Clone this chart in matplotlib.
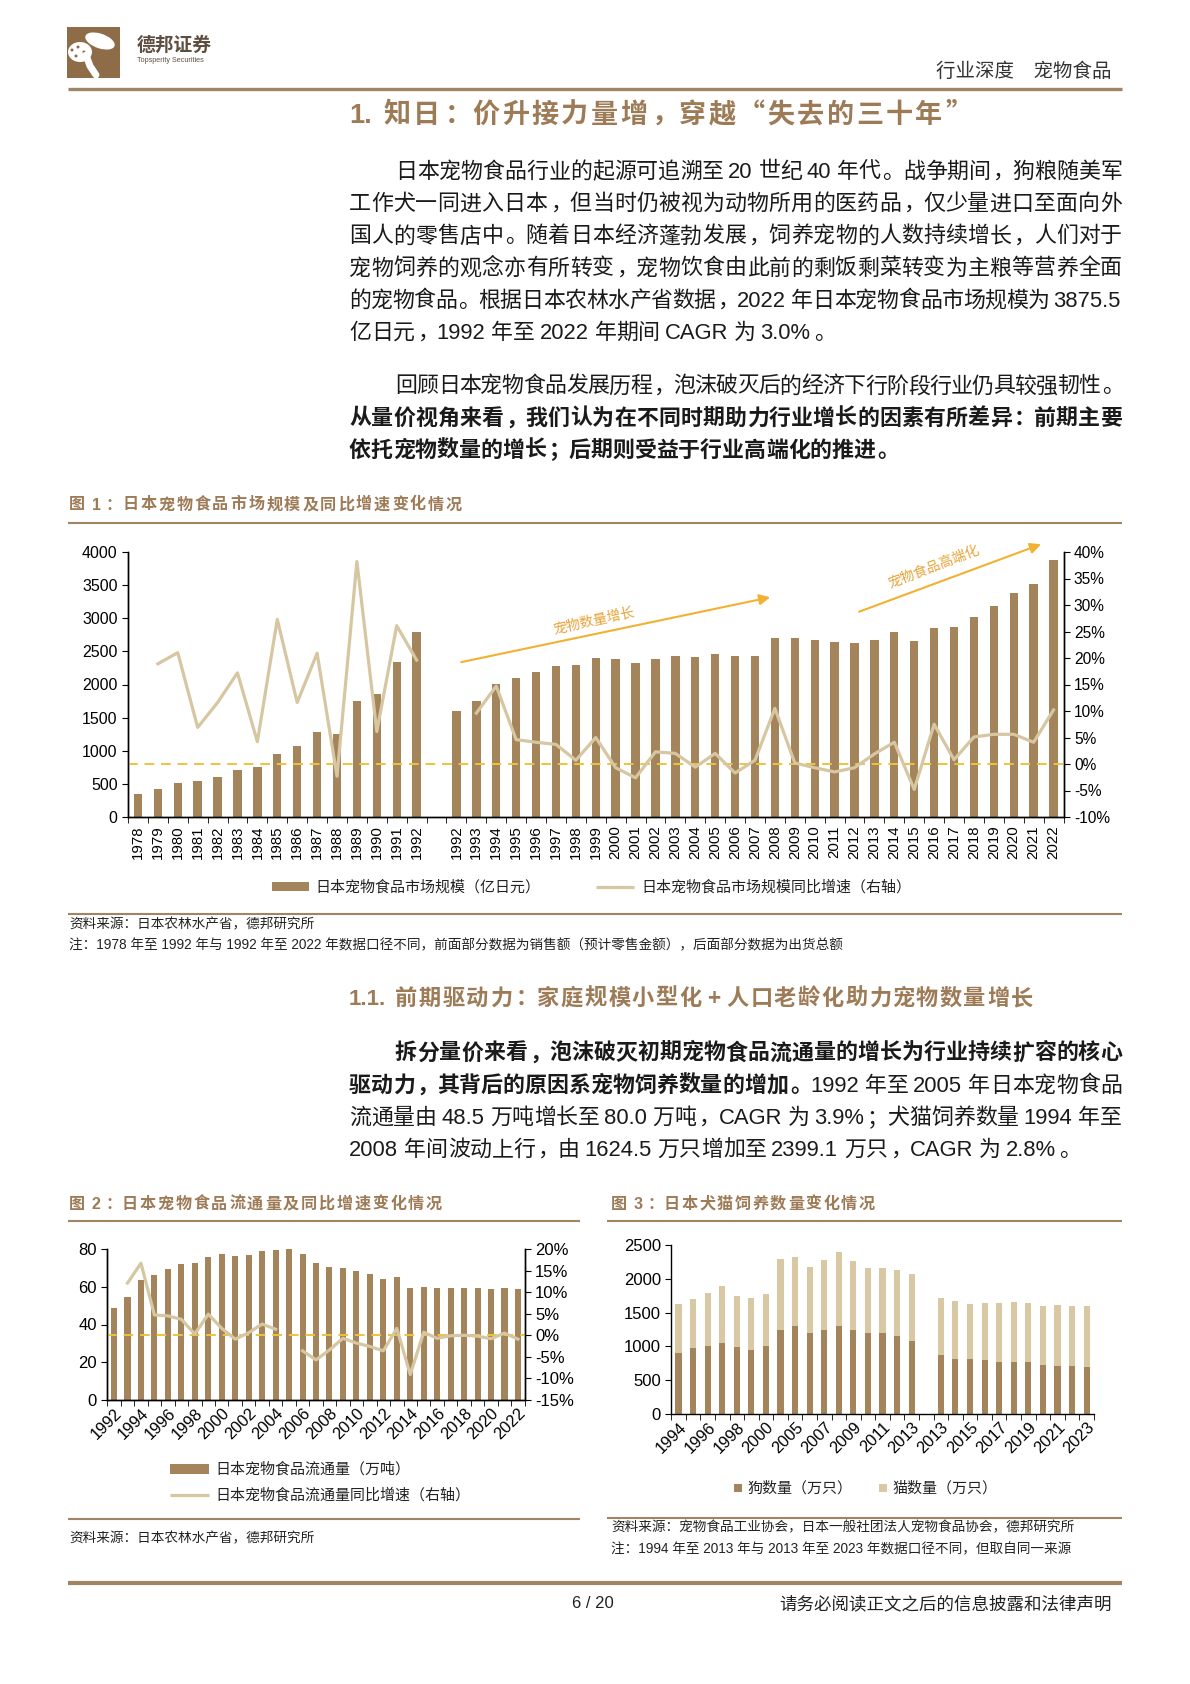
import re
import numpy as np
import matplotlib
matplotlib.use("Agg")
import matplotlib.pyplot as plt
from matplotlib.patches import Rectangle, Ellipse
from matplotlib.lines import Line2D

# ---------------- data ----------------
# fig 1: market size (100m yen) and yoy (%), two series split by a blank slot
cat1 = [str(y) for y in range(1978, 1993)] + [""] + [str(y) for y in range(1992, 2023)]
size1 = [350, 420, 510, 545, 610, 715, 750, 950, 1065, 1285, 1260, 1745, 1855, 2340, 2800,
         np.nan,
         1600, 1755, 2015, 2105, 2190, 2280, 2290, 2400, 2390, 2330, 2385, 2430, 2415, 2460,
         2425, 2435, 2695, 2700, 2675, 2640, 2620, 2675, 2785, 2650, 2850, 2870, 3015, 3185,
         3375, 3515, 3875.5]
yoy1 = [np.nan, 18.9, 21.0, 6.9, 11.6, 17.2, 4.2, 27.3, 11.6, 20.9, -2.3, 38.2, 6.1, 26.1, 19.6,
        np.nan,
        np.nan, 9.6, 14.7, 4.6, 4.1, 3.7, 0.7, 5.0, -0.7, -2.6, 2.3, 2.0, -0.6, 2.0,
        -1.7, 0.7, 10.5, 0.2, -0.7, -1.5, -0.7, 1.9, 4.1, -4.8, 7.5, 0.8, 5.1, 5.6,
        5.6, 4.1, 10.2]

# fig 2: distribution volume (10k tons) and yoy (%)
cat2 = [str(y) for y in range(1992, 2023)]
vol2 = [48.5, 54.5, 63.5, 66.2, 69.5, 72.2, 72.4, 75.8, 77.3, 76.4, 76.9, 79.0, 79.6, 80.0,
        77.3, 72.8, 70.4, 69.9, 68.6, 66.5, 64.3, 65.2, 59.6, 60.1, 59.5, 59.5, 59.2, 59.2,
        58.8, 59.1, 58.6]
yoy2 = [np.nan, 12.1, 16.7, 4.7, 4.5, 3.7, 0.3, 4.9, 1.6, -0.9, 0.6, 2.6, 1.4, np.nan,
        -3.6, -5.7, -3.4, -0.7, -1.8, -2.6, -3.6, 1.6, -9.1, 0.7, -0.7, -0.1, 0.0, -0.2,
        -0.8, 0.5, -0.9]

# fig 3: dogs / cats (10k)
cat3 = ["1994", "1995", "1996", "1997", "1998", "1999", "2000", "2004", "2005", "2006",
        "2007", "2008", "2009", "2010", "2011", "2012", "2013", "",
        "2013", "2014", "2015", "2016", "2017", "2018", "2019", "2020", "2021", "2022", "2023"]
dogs3 = [903, 979, 999, 1043, 994, 950, 1013, 1250, 1309, 1205, 1250, 1309, 1250, 1191, 1196,
         1161, 1082, np.nan, 871, 817, 807, 802, 772, 763, 763, 728, 708, 704, 689]
cats3 = [721.5, 728, 792, 851, 748, 767, 768, 1043, 1013, 965, 1028, 1090, 1013, 964, 964,
         974, 984, np.nan, 846, 851, 822, 836, 871, 890, 875, 876, 906, 890, 905]

# ---------------- style ----------------
BAR = "#A4845A"
LINE = "#D6C6A2"
CAT = "#D9C8A4"
DASH = "#F0C23C"
ARROW = "#F2B132"
BROWN = "#9E7B57"
RULE = "#A08464"
TXT = "#1a1a1a"
CJK = "Noto Sans CJK SC"

W, H = 1190, 1684
plt.rcParams["font.family"] = ["Liberation Sans", CJK]
plt.rcParams["axes.linewidth"] = 1.0

fig = plt.figure(figsize=(W / 100, H / 100), dpi=100)
renderer = fig.canvas.get_renderer()


def fx(x):
    return x / W


def fy(y):
    return 1 - y / H


def text(x, y, s, **kw):
    return fig.text(fx(x), fy(y), s, **kw)


def hline(x0, x1, y, lw, color):
    fig.add_artist(Line2D([fx(x0), fx(x1)], [fy(y), fy(y)], lw=lw, color=color,
                          transform=fig.transFigure, solid_capstyle="butt"))


def axes_px(l, t, r, b):
    return fig.add_axes([fx(l), fy(b), (r - l) / W, (b - t) / H])


PUNCT = "，。：；、"


def line_px(y, segs, x0=349, x1=1122, size=15.8, justify=True, color=TXT):
    # lay out one line token by token, spreading the slack when justified
    em = size * 100 / 72
    base = y + 0.36 * em
    items = []
    for s, bold in segs:
        wt = "bold" if bold else "normal"
        for t in re.findall(r"[A-Za-z0-9.%]+|\s+|.", s):
            if t.isspace():
                items.append((None, 0.2 * em * len(t), ""))
            elif re.match(r"[A-Za-z0-9.%]", t):
                tt = text(0, base, t, fontsize=size, fontweight=wt, color=color,
                          va="baseline", ha="left")
                items.append((tt, tt.get_window_extent(renderer).width + 1.5, "l"))
            elif t in PUNCT:
                tt = text(0, base, t, fontsize=size, fontweight=wt, color=color,
                          va="baseline", ha="left", family=CJK)
                items.append((tt, em, "p"))
            else:
                tt = text(0, base, t, fontsize=size, fontweight=wt, color=color,
                          va="baseline", ha="center", family=CJK)
                items.append((tt, em, "c"))
    total = sum(w for _, w, _ in items)
    gap = (x1 - x0 - total) / (len(items) - 1) if justify and len(items) > 1 else 0
    x = x0
    for tt, w, k in items:
        if tt is not None:
            if k == "c":
                tt.set_x(fx(x + w / 2))
            elif k == "p":
                tt.set_x(fx(x + 0.08 * w))
            else:
                tt.set_x(fx(x))
        x += w + gap


# ---------------- header ----------------
fig.add_artist(Rectangle((fx(67), fy(78)), 53 / W, 51 / H, transform=fig.transFigure,
                         color="#8E6C47", lw=0))
fig.add_artist(Ellipse((fx(100), fy(41)), 30 / W, 15 / H, angle=-12, transform=fig.transFigure,
                       color="white", lw=0))
fig.add_artist(Ellipse((fx(80), fy(52)), 24 / W, 20 / H, transform=fig.transFigure,
                       color="white", lw=0))
fig.add_artist(Line2D([fx(86), fx(90), fx(96)], [fy(55), fy(66), fy(75)], lw=5, color="white",
                      transform=fig.transFigure, solid_capstyle="round"))
for sx, sy in [(72, 50), (78, 47), (76, 56), (84, 52)]:
    fig.add_artist(Ellipse((fx(sx), fy(sy)), 3 / W, 3 / H, transform=fig.transFigure,
                           color="#8E6C47", lw=0))
text(137, 45, "德邦证券", fontsize=13.5, fontweight="bold", color="#5E4E40", family=CJK, va="center")
text(137, 60, "Topsperity Securities", fontsize=5.2, color="#5E4E40", va="center")
text(1112, 71, "行业深度\u3000宠物食品", fontsize=14, color="#333333", family=CJK,
     ha="right", va="center")
hline(68, 1122, 89, 2.4, RULE)

# ---------------- text blocks ----------------
line_px(113, [("1. 知日：价升接力量增，穿越“失去的三十年”", True)], x0=349, x1=972,
        size=19.5, color=BROWN)

p1 = [
    "日本宠物食品行业的起源可追溯至 20 世纪 40 年代。战争期间，狗粮随美军",
    "工作犬一同进入日本，但当时仍被视为动物所用的医药品，仅少量进口至面向外",
    "国人的零售店中。随着日本经济蓬勃发展，饲养宠物的人数持续增长，人们对于",
    "宠物饲养的观念亦有所转变，宠物饮食由此前的剩饭剩菜转变为主粮等营养全面",
    "的宠物食品。根据日本农林水产省数据，2022 年日本宠物食品市场规模为 3875.5",
    "亿日元，1992 年至 2022 年期间 CAGR 为 3.0%。",
]
for i, s in enumerate(p1):
    line_px(170 + 32.2 * i, [(s, False)], x0=395 if i == 0 else 349,
            justify=i < len(p1) - 1)

line_px(384.5, [("回顾日本宠物食品发展历程，泡沫破灭后的经济下行阶段行业仍具较强韧性。", False)], x0=395)
line_px(416.7, [("从量价视角来看，我们认为在不同时期助力行业增长的因素有所差异：前期主要", True)])
line_px(448.9, [("依托宠物数量的增长；后期则受益于行业高端化的推进。", True)], justify=False)

line_px(997, [("1.1. 前期驱动力：家庭规模小型化+人口老龄化助力宠物数量增长", True)], x0=349, x1=1033,
        size=16, color=BROWN)
line_px(1051.4, [("拆分量价来看，泡沫破灭初期宠物食品流通量的增长为行业持续扩容的核心", True)], x0=395)
line_px(1083.7, [("驱动力，其背后的原因系宠物饲养数量的增加。", True),
                 ("1992 年至 2005 年日本宠物食品", False)])
line_px(1115.9, [("流通量由 48.5 万吨增长至 80.0 万吨，CAGR 为 3.9%；犬猫饲养数量 1994 年至", False)])
line_px(1148.1, [("2008 年间波动上行，由 1624.5 万只增加至 2399.1 万只，CAGR 为 2.8%。", False)],
        justify=False)

# ---------------- figure 1 ----------------
line_px(503.7, [("图 1：日本宠物食品市场规模及同比增速变化情况", True)], x0=69, x1=462,
        size=11.6, color=BROWN)
hline(68, 1122, 523, 1.5, RULE)

x1 = np.arange(len(cat1))
ax1 = axes_px(128, 552, 1063.5, 817)
ax1.bar(x1, size1, width=0.42, color=BAR, zorder=2)
ax1.set_xlim(-0.5, len(cat1) - 0.5)
ax1.set_ylim(0, 4000)
ax1.set_yticks(range(0, 4001, 500))
ax1.set_xticks(x1)
ax1.set_xticklabels(cat1, rotation=90, fontsize=10.8)
ax1.set_xticks(np.arange(-0.5, len(cat1)), minor=True)
ax1.tick_params(axis="x", which="major", length=0, pad=6)
ax1.tick_params(axis="x", which="minor", length=4)
ax1.tick_params(axis="y", length=4, labelsize=11.5)
ax1.spines["top"].set_visible(False)

ax1.annotate("", xy=(31.9, 3325), xytext=(16.1, 2329), annotation_clip=False,
             arrowprops=dict(arrowstyle="-|>", color=ARROW, lw=1.5, mutation_scale=16))
ax1.annotate("", xy=(45.5, 4131), xytext=(36.1, 3084), annotation_clip=False,
             arrowprops=dict(arrowstyle="-|>", color=ARROW, lw=1.5, mutation_scale=16))
ax1.text(22.9, 2960, "宠物数量增长", rotation=12.5, color="#E8A43A", fontsize=10,
         family=CJK, ha="center", va="center")
ax1.text(40.0, 3769, "宠物食品高端化", rotation=21, color="#E8A43A", fontsize=10,
         family=CJK, ha="center", va="center")

ax1r = ax1.twinx()
ax1r.plot(x1, yoy1, color=LINE, lw=2.3, zorder=3)
ax1r.axhline(0, color=DASH, ls=(0, (5, 3.5)), lw=1.4, zorder=2)
ax1r.set_ylim(-10, 40)
ax1r.set_yticks(range(-10, 41, 5))
ax1r.set_yticklabels([f"{v}%" for v in range(-10, 41, 5)])
ax1r.tick_params(axis="y", length=4, labelsize=11.2)
ax1r.spines["top"].set_visible(False)

fig.add_artist(Rectangle((fx(272), fy(891)), 37 / W, 9 / H, transform=fig.transFigure,
                         color=BAR, lw=0))
text(315, 887, "日本宠物食品市场规模（亿日元）", fontsize=10.8, family=CJK, color="#222", va="center")
hline(596, 634, 887, 2.3, LINE)
text(641, 887, "日本宠物食品市场规模同比增速（右轴）", fontsize=10.8, family=CJK, color="#222",
     va="center")

hline(68, 1122, 914, 1.5, RULE)
text(69, 924, "资料来源：日本农林水产省，德邦研究所", fontsize=9.8, family=CJK, color="#222", va="center")
text(69, 945, "注：1978 年至 1992 年与 1992 年至 2022 年数据口径不同，前面部分数据为销售额（预计零售金额），后面部分数据为出货总额",
     fontsize=9.8, color="#222", va="center")

# ---------------- figure 2 ----------------
line_px(1203, [("图 2：日本宠物食品流通量及同比增速变化情况", True)], x0=69, x1=442,
        size=11.6, color=BROWN)
hline(68, 580, 1221, 1.5, RULE)

x2 = np.arange(len(cat2))
ax2 = axes_px(107.3, 1249, 524.7, 1400)
ax2.bar(x2, vol2, width=0.45, color=BAR, zorder=2)
ax2.set_xlim(-0.5, len(cat2) - 0.5)
ax2.set_ylim(0, 80)
ax2.set_yticks(range(0, 81, 20))
ax2.set_xticks(x2[::2])
ax2.set_xticklabels(cat2[::2], rotation=45, ha="right", rotation_mode="anchor", fontsize=11.8)
ax2.set_xticks(np.arange(-0.5, len(cat2)), minor=True)
ax2.tick_params(axis="x", which="major", length=0, pad=4)
ax2.tick_params(axis="x", which="minor", length=4)
ax2.tick_params(axis="y", length=4, labelsize=12)
ax2.spines["top"].set_visible(False)

ax2r = ax2.twinx()
ax2r.plot(x2, yoy2, color=LINE, lw=2.3, zorder=3)
ax2r.axhline(0, color=DASH, ls=(0, (5, 3.5)), lw=1.4, zorder=2)
ax2r.set_ylim(-15, 20)
ax2r.set_yticks(range(-15, 21, 5))
ax2r.set_yticklabels([f"{v}%" for v in range(-15, 21, 5)])
ax2r.tick_params(axis="y", length=4, labelsize=12)
ax2r.spines["top"].set_visible(False)

fig.add_artist(Rectangle((fx(170), fy(1474)), 39 / W, 10 / H, transform=fig.transFigure,
                         color=BAR, lw=0))
text(215, 1469, "日本宠物食品流通量（万吨）", fontsize=10.8, family=CJK, color="#222", va="center")
hline(170, 209, 1495, 2.3, LINE)
text(215, 1495, "日本宠物食品流通量同比增速（右轴）", fontsize=10.8, family=CJK, color="#222",
     va="center")

hline(68, 580, 1519, 1.5, RULE)
text(69, 1538, "资料来源：日本农林水产省，德邦研究所", fontsize=9.8, family=CJK, color="#222", va="center")

# ---------------- figure 3 ----------------
line_px(1203, [("图 3：日本犬猫饲养数量变化情况", True)], x0=611, x1=875,
        size=11.6, color=BROWN)
hline(607, 1122, 1221, 1.5, RULE)

x3 = np.arange(len(cat3))
ax3 = axes_px(671.2, 1245, 1093.9, 1414)
ax3.bar(x3, dogs3, width=0.42, color=BAR, zorder=2)
ax3.bar(x3, cats3, bottom=dogs3, width=0.42, color=CAT, zorder=2)
ax3.set_xlim(-0.5, len(cat3) - 0.5)
ax3.set_ylim(0, 2500)
ax3.set_yticks(range(0, 2501, 500))
ax3.set_xticks(x3[::2])
ax3.set_xticklabels(cat3[::2], rotation=45, ha="right", rotation_mode="anchor", fontsize=11.8)
ax3.set_xticks(np.arange(-0.5, len(cat3)), minor=True)
ax3.tick_params(axis="x", which="major", length=0, pad=4)
ax3.tick_params(axis="x", which="minor", length=4)
ax3.tick_params(axis="y", length=4, labelsize=12)
ax3.spines["top"].set_visible(False)
ax3.spines["right"].set_visible(False)

fig.add_artist(Rectangle((fx(734), fy(1492)), 8 / W, 8 / H, transform=fig.transFigure,
                         color=BAR, lw=0))
text(747, 1488, "狗数量（万只）", fontsize=10.8, family=CJK, color="#222", va="center")
fig.add_artist(Rectangle((fx(879), fy(1492)), 8 / W, 8 / H, transform=fig.transFigure,
                         color=CAT, lw=0))
text(892, 1488, "猫数量（万只）", fontsize=10.8, family=CJK, color="#222", va="center")

hline(607, 1122, 1518, 1.5, RULE)
text(611, 1527, "资料来源：宠物食品工业协会，日本一般社团法人宠物食品协会，德邦研究所", fontsize=9.8,
     family=CJK, color="#222", va="center")
text(611, 1549, "注：1994 年至 2013 年与 2013 年至 2023 年数据口径不同，但取自同一来源", fontsize=9.8,
     color="#222", va="center")

# ---------------- footer ----------------
hline(68, 1122, 1583, 3.0, RULE)
text(593, 1604, "6 / 20", fontsize=12, color="#222", ha="center", va="center")
text(1112, 1604, "请务必阅读正文之后的信息披露和法律声明", fontsize=12.6, family=CJK, color="#222",
     ha="right", va="center")

fig.savefig("out.png", dpi=100)
